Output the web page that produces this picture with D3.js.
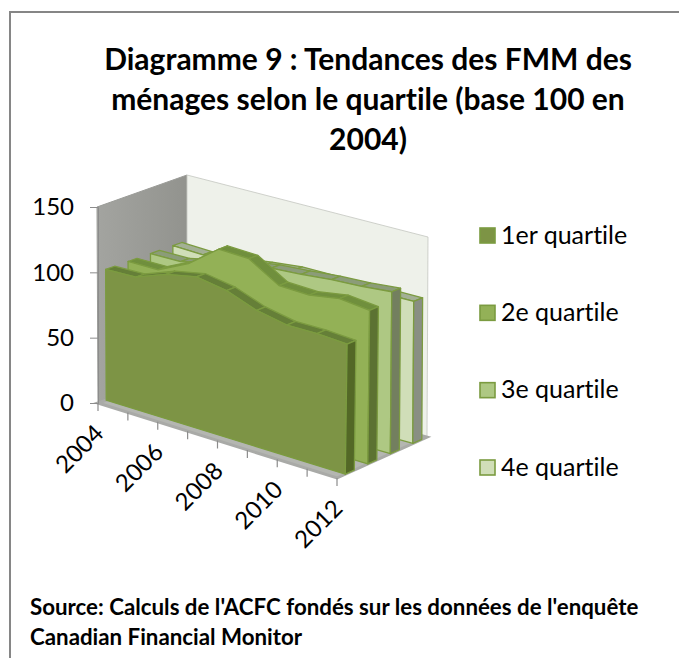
<!DOCTYPE html>
<html>
<head>
<meta charset="utf-8">
<script src="https://cdn.jsdelivr.net/npm/d3@7"></script>
<style>
  body { margin: 0; background: #fff; }
  text { font-family: Lato, "Open Sans", sans-serif; fill: #000; font-variant-ligatures: none; }
</style>
</head>
<body>
<svg id="chart" width="679" height="658"></svg>
<script>
// data
const years = [2004, 2005, 2006, 2007, 2008, 2009, 2010, 2011, 2012];
const yearLabels = [2004, 2006, 2008, 2010, 2012];
const valueTicks = [0, 50, 100, 150];
const seriesNames = ["1er quartile", "2e quartile", "3e quartile", "4e quartile"];
const q1 = [100, 100.5, 109, 113.5, 109.5, 101, 96.5, 96.5, 95];
const q2 = [100, 100, 111, 128, 127, 113, 112, 115.5, 113];
const q3 = [100, 100, 105, 110, 113.5, 115, 117, 118, 120];
const q4 = [100, 99, 100, 103, 105.5, 105.5, 105.5, 106, 106];
const allSeries = [q1, q2, q3, q4];

const titleLines = ["Diagramme 9 : Tendances des FMM des", "ménages selon le quartile (base 100 en", "2004)"];
const sourceLines = ["Source: Calculs de l'ACFC fondés sur les données de l'enquête", "Canadian Financial Monitor"];

// couleurs : face avant, dessus, bout
const frontColors = ["#7d9445", "#93b157", "#aec883", "#d0deb8"];
const topColors = ["#657f37", "#6f8f3c", "#8b9c78", "#a3b094"];
const capColors = ["#526728", "#5c7232", "#737f5f", "#898f83"];
const edgeColor = "#7b9b40";

const svg = d3.select("#chart");

// cadre : seulement à gauche et en haut, le reste sort de l'image
svg.append("path").attr("d", "M10,658V12H679")
  .attr("fill", "none").attr("stroke", "#868686").attr("stroke-width", 2);

// titre
svg.selectAll(".title").data(titleLines).join("text")
  .attr("class", "title")
  .attr("x", 368).attr("y", (d, i) => 70 + i * 40)
  .attr("text-anchor", "middle")
  .style("font-size", "30px").style("font-weight", "bold")
  .text(d => d);

// source
svg.selectAll(".source").data(sourceLines).join("text")
  .attr("class", "source")
  .attr("x", 30).attr("y", (d, i) => 615 + i * 30)
  .style("font-size", "22.3px").style("font-weight", "bold")
  .text(d => d);

// projection 3D : trois échelles, puis interpolation entre les coins de la boite
const tScale = d3.scaleLinear().domain([2004, 2012]).range([0, 1]);
const vScale = d3.scaleLinear().domain([0, 150]).range([0, 1]);
const dScale = d3.scaleLinear().domain([0, 4]).range([0, 1]);

const box = {
  base: { fl: [98, 403], fr: [337, 478], bl: [187, 372], br: [427, 437] },
  top: { fl: [97, 207], fr: [340, 272], bl: [187, 175], br: [428, 237] }
};

function project(year, slot, value) {
  const t = tScale(year), d = dScale(slot), v = vScale(value);
  const mix = (a, b, k) => a + (b - a) * k;
  const plane = (p, i) => mix(mix(p.fl[i], p.fr[i], t), mix(p.bl[i], p.br[i], t), d);
  return [0, 1].map(i => mix(plane(box.base, i), plane(box.top, i), v));
}

const poly = d3.line();
const defs = svg.append("defs");
defs.append("filter").attr("id", "soft").append("feGaussianBlur").attr("stdDeviation", 0.5);

const sideGrad = defs.append("linearGradient").attr("id", "sideWall").attr("x1", 0).attr("x2", 1).attr("y1", 0).attr("y2", 0);
sideGrad.append("stop").attr("offset", "0").attr("stop-color", "#a3a4a0");
sideGrad.append("stop").attr("offset", "1").attr("stop-color", "#92938e");

const g = svg.append("g").attr("filter", "url(#soft)");

// murs
const [y0, y1] = [2004, 2012];
const vMax = 150, slots = 4;
g.append("path")
  .attr("d", poly([project(y0, 0, 0), project(y0, slots, 0), project(y0, slots, vMax), project(y0, 0, vMax)]) + "Z")
  .attr("fill", "url(#sideWall)").attr("stroke", "#9a9b97");
g.append("path")
  .attr("d", poly([project(y0, slots, 0), project(y1, slots, 0), project(y1, slots, vMax), project(y0, slots, vMax)]) + "Z")
  .attr("fill", "#eef1ea").attr("stroke", "#c4c6c0").attr("stroke-width", 0.8);
// sol
g.append("path")
  .attr("d", poly([project(y0, 0, 0), project(y1, 0, 0), project(y1, slots, 0), project(y0, slots, 0)]) + "Z")
  .attr("fill", "#b4b6b1").attr("stroke", "#a9aaa7").attr("stroke-width", 3);

// axe du bas : graduations
const axisColor = "#8c8c8c";
g.selectAll(".xtick").data(years).join("line")
  .attr("class", "xtick")
  .attr("x1", d => project(d, 0, 0)[0]).attr("y1", d => project(d, 0, 0)[1])
  .attr("x2", d => project(d, 0, 0)[0]).attr("y2", d => project(d, 0, 0)[1] + 8)
  .attr("stroke", axisColor).attr("stroke-width", 1.2);

// axe de gauche
const yAxisScale = d3.scaleLinear().domain([0, 150]).range([403, 207]);
const yAxis = svg.append("g").attr("transform", "translate(98,0)")
  .call(d3.axisLeft(yAxisScale).tickValues(valueTicks).tickSize(8).tickPadding(16));
yAxis.select(".domain").attr("stroke", axisColor);
yAxis.selectAll(".tick line").attr("stroke", axisColor);
yAxis.selectAll("text").style("font-size", "24px").style("font-family", "Lato").attr("fill", "#000");

// rubans, du fond vers l'avant
const gap0 = 0.37, gap1 = 0.77;
d3.range(allSeries.length - 1, -1, -1).forEach(i => {
  const vals = allSeries[i];
  const d0 = i + gap0, d1 = i + gap1;
  const s = g.append("g").attr("stroke", edgeColor).attr("stroke-width", 1.3).attr("stroke-linejoin", "round");
  // dessus
  d3.pairs(years.map((y, k) => [y, vals[k]])).forEach(([a, b]) => {
    s.append("path")
      .attr("d", poly([project(a[0], d0, a[1]), project(b[0], d0, b[1]), project(b[0], d1, b[1]), project(a[0], d1, a[1])]) + "Z")
      .attr("fill", topColors[i]);
  });
  // face avant
  const front = years.map((y, k) => project(y, d0, vals[k]));
  front.push(project(y1, d0, 0), project(y0, d0, 0));
  s.append("path").attr("d", poly(front) + "Z").attr("fill", frontColors[i]);
  // bout droit
  const last = vals[vals.length - 1];
  s.append("path")
    .attr("d", poly([project(y1, d0, last), project(y1, d1, last), project(y1, d1, 0), project(y1, d0, 0)]) + "Z")
    .attr("fill", capColors[i]);
});

// étiquettes des années
svg.selectAll(".xlabel").data(yearLabels).join("text")
  .attr("class", "xlabel")
  .attr("transform", d => {
    const p = project(d, 0, 0);
    return `translate(${p[0] + 7},${p[1] + 32}) rotate(-45)`;
  })
  .attr("text-anchor", "end")
  .style("font-size", "24px")
  .text(d => d);

// légende
const legendY = d3.scalePoint().domain(seriesNames).range([235.5, 467.5]);
const legend = svg.selectAll(".legend").data(seriesNames).join("g")
  .attr("class", "legend")
  .attr("transform", d => `translate(0,${legendY(d)})`);
legend.append("rect").attr("x", 480).attr("y", -7.5).attr("width", 15).attr("height", 15)
  .attr("fill", (d, i) => frontColors[i]).attr("stroke", edgeColor).attr("stroke-width", 1.6);
legend.append("text").attr("x", 501).attr("y", 8).style("font-size", "25px").text(d => d);
</script>
</body>
</html>
